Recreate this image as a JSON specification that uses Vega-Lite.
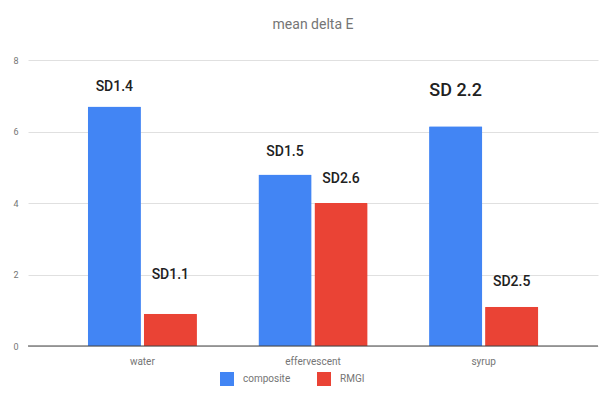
{
  "$schema": "https://vega.github.io/schema/vega-lite/v6.json",
  "width": 570,
  "height": 286,
  "autosize": "none",
  "padding": {"left": 28, "top": 60, "right": 2, "bottom": 55},
  "background": "white",
  "title": {"text": "mean delta E", "fontSize": 14, "fontWeight": "normal", "color": "#757575", "font": "Roboto", "offset": 24, "anchor": "middle"},
  "config": {"view": {"stroke": null}, "font": "Roboto"},
  "datasets": {
    "bars": [
      {"category": "water", "series": "composite", "value": 6.7},
      {"category": "water", "series": "RMGI", "value": 0.9},
      {"category": "effervescent", "series": "composite", "value": 4.8},
      {"category": "effervescent", "series": "RMGI", "value": 4.0},
      {"category": "syrup", "series": "composite", "value": 6.15},
      {"category": "syrup", "series": "RMGI", "value": 1.1}
    ],
    "notes": [
      {"category": "water", "series": "composite", "label": "SD1.4", "ly": 7.25},
      {"category": "water", "series": "RMGI", "label": "SD1.1", "ly": 2.0},
      {"category": "effervescent", "series": "composite", "label": "SD1.5", "ly": 5.43},
      {"category": "effervescent", "series": "RMGI", "label": "SD2.6", "ly": 4.67},
      {"category": "syrup", "series": "composite", "label": "SD 2.2", "ly": 7.13},
      {"category": "syrup", "series": "RMGI", "label": "SD2.5", "ly": 1.8}
    ]
  },
  "encoding": {
    "x": {"field": "category", "type": "nominal", "sort": ["water", "effervescent", "syrup"],
      "scale": {"paddingInner": 0.36, "paddingOuter": 0.35},
      "axis": {"title": null, "labelAngle": 0, "domain": false, "ticks": false, "labelColor": "#757575", "labelFontSize": 10, "labelPadding": 10}},
    "xOffset": {"field": "series", "type": "nominal", "sort": ["composite", "RMGI"], "scale": {"paddingInner": 0.05}}
  },
  "layer": [
    {
      "data": {"name": "bars"},
      "mark": {"type": "bar", "cornerRadiusTopLeft": 1, "cornerRadiusTopRight": 1},
      "encoding": {
        "y": {"field": "value", "type": "quantitative", "scale": {"domain": [0, 8]},
          "axis": {"title": null, "values": [0, 2, 4, 6, 8], "domain": false, "ticks": false, "gridColor": "#e0e0e0", "labelColor": "#757575", "labelFontSize": 9, "labelPadding": 10}},
        "color": {"field": "series", "type": "nominal", "sort": ["composite", "RMGI"],
          "scale": {"domain": ["composite", "RMGI"], "range": ["#4285F4", "#EA4335"]},
          "legend": {"title": null, "orient": "none", "direction": "horizontal", "legendX": 192, "legendY": 312, "symbolType": "square", "symbolSize": 196, "symbolStrokeWidth": 0, "labelColor": "#757575", "labelFontSize": 10, "columnPadding": 26, "labelOffset": 9}}
      }
    },
    {
      "data": {"values": [{"z": 0}]},
      "mark": {"type": "rule", "color": "#444", "strokeWidth": 1.2},
      "encoding": {"y": {"field": "z", "type": "quantitative"}, "x": {"value": 0}, "x2": {"value": 570}, "xOffset": null}
    },
    {
      "data": {"name": "notes"},
      "mark": {"type": "text", "baseline": "middle", "align": "center", "color": "#212121", "fontWeight": 500},
      "encoding": {
        "y": {"field": "ly", "type": "quantitative"},
        "text": {"field": "label"},
        "size": {"condition": {"test": "datum.label === 'SD 2.2'", "value": 18}, "value": 14}
      }
    }
  ]
}
